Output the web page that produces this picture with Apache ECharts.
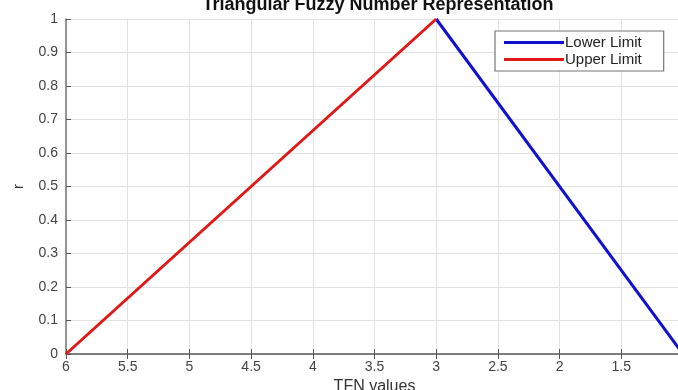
<!DOCTYPE html>
<html><head><meta charset="utf-8">
<script src="https://cdn.jsdelivr.net/npm/echarts@6/dist/echarts.min.js"></script>
<style>html,body{margin:0;padding:0;background:#fff;overflow:hidden}#c{width:678px;height:390px}</style>
</head><body><div id="c"></div>
<script>
const xTicks = [6, 5.5, 5, 4.5, 4, 3.5, 3, 2.5, 2, 1.5, 1];
const yTicks = [0, 0.1, 0.2, 0.3, 0.4, 0.5, 0.6, 0.7, 0.8, 0.9, 1];
const lowerX = [3, 1];
const lowerY = [1, 0];
const upperX = [6, 3];
const upperY = [0, 1];
const seriesNames = ['Lower Limit', 'Upper Limit'];

const font = 'Liberation Sans, Arial, sans-serif';
const chart = echarts.init(document.getElementById('c'));
const axisCommon = {
  type: 'value', axisLine: {show: true, lineStyle: {color: '#777', width: 1.5}},
  axisTick: {show: true, inside: true, length: 5, lineStyle: {color: '#555'}},
};
chart.setOption({
  animation: false,
  title: {text: 'Triangular Fuzzy Number Representation', left: 373, textAlign: 'center', top: -9,
    textStyle: {fontFamily: font, fontSize: 18, fontWeight: 'bold', color: '#111'}},
  legend: {orient: 'vertical', left: 495, top: 31, data: seriesNames, icon: 'rect',
    itemWidth: 60, itemHeight: 3, itemGap: 2, padding: [4, 22, 4, 9],
    borderColor: '#777', borderWidth: 1.2, backgroundColor: '#fff',
    textStyle: {fontFamily: font, fontSize: 15, color: '#222', padding: [0, 0, 0, -4]}},
  grid: {left: 66, top: 19, width: 617, height: 335, containLabel: false, outerBoundsMode: 'none'},
  xAxis: [
    Object.assign({}, axisCommon, {min: 1, max: 6, interval: 0.5, inverse: true, position: 'bottom',
      name: 'TFN values', nameLocation: 'middle', nameGap: 23,
      nameTextStyle: {fontFamily: font, fontSize: 16, color: '#333'},
      axisLabel: {fontFamily: font, fontSize: 14, color: '#444', margin: 6,
        formatter: v => { const t = xTicks.find(k => Math.abs(k - v) < 1e-9); return t === undefined ? '' : String(t); }},
      splitLine: {show: true, lineStyle: {color: '#e2e2e2'}}}),
    Object.assign({}, axisCommon, {min: 1, max: 6, interval: 0.5, inverse: true, position: 'top',
      axisLabel: {show: false}, splitLine: {show: false}})
  ],
  yAxis: [
    Object.assign({}, axisCommon, {min: 0, max: 1, interval: 0.1, position: 'left',
      name: 'r', nameLocation: 'middle', nameGap: 40,
      nameTextStyle: {fontFamily: font, fontSize: 15, color: '#333'},
      axisLabel: {fontFamily: font, fontSize: 14, color: '#444', margin: 8,
        formatter: v => { const t = yTicks.find(k => Math.abs(k - v) < 1e-9); return t === undefined ? '' : String(t); }},
      splitLine: {show: true, lineStyle: {color: '#e2e2e2'}}}),
    Object.assign({}, axisCommon, {min: 0, max: 1, interval: 0.1, position: 'right',
      axisLabel: {show: false}, splitLine: {show: false}})
  ],
  series: [
    {name: seriesNames[0], type: 'line', data: lowerX.map((x, i) => [x, lowerY[i]]), showSymbol: false,
      symbol: 'none', lineStyle: {color: '#1010d0', width: 3}, itemStyle: {color: '#1010d0'}},
    {name: seriesNames[1], type: 'line', data: upperX.map((x, i) => [x, upperY[i]]), showSymbol: false,
      symbol: 'none', lineStyle: {color: '#e01818', width: 3}, itemStyle: {color: '#e01818'}}
  ]
});
</script></body></html>
